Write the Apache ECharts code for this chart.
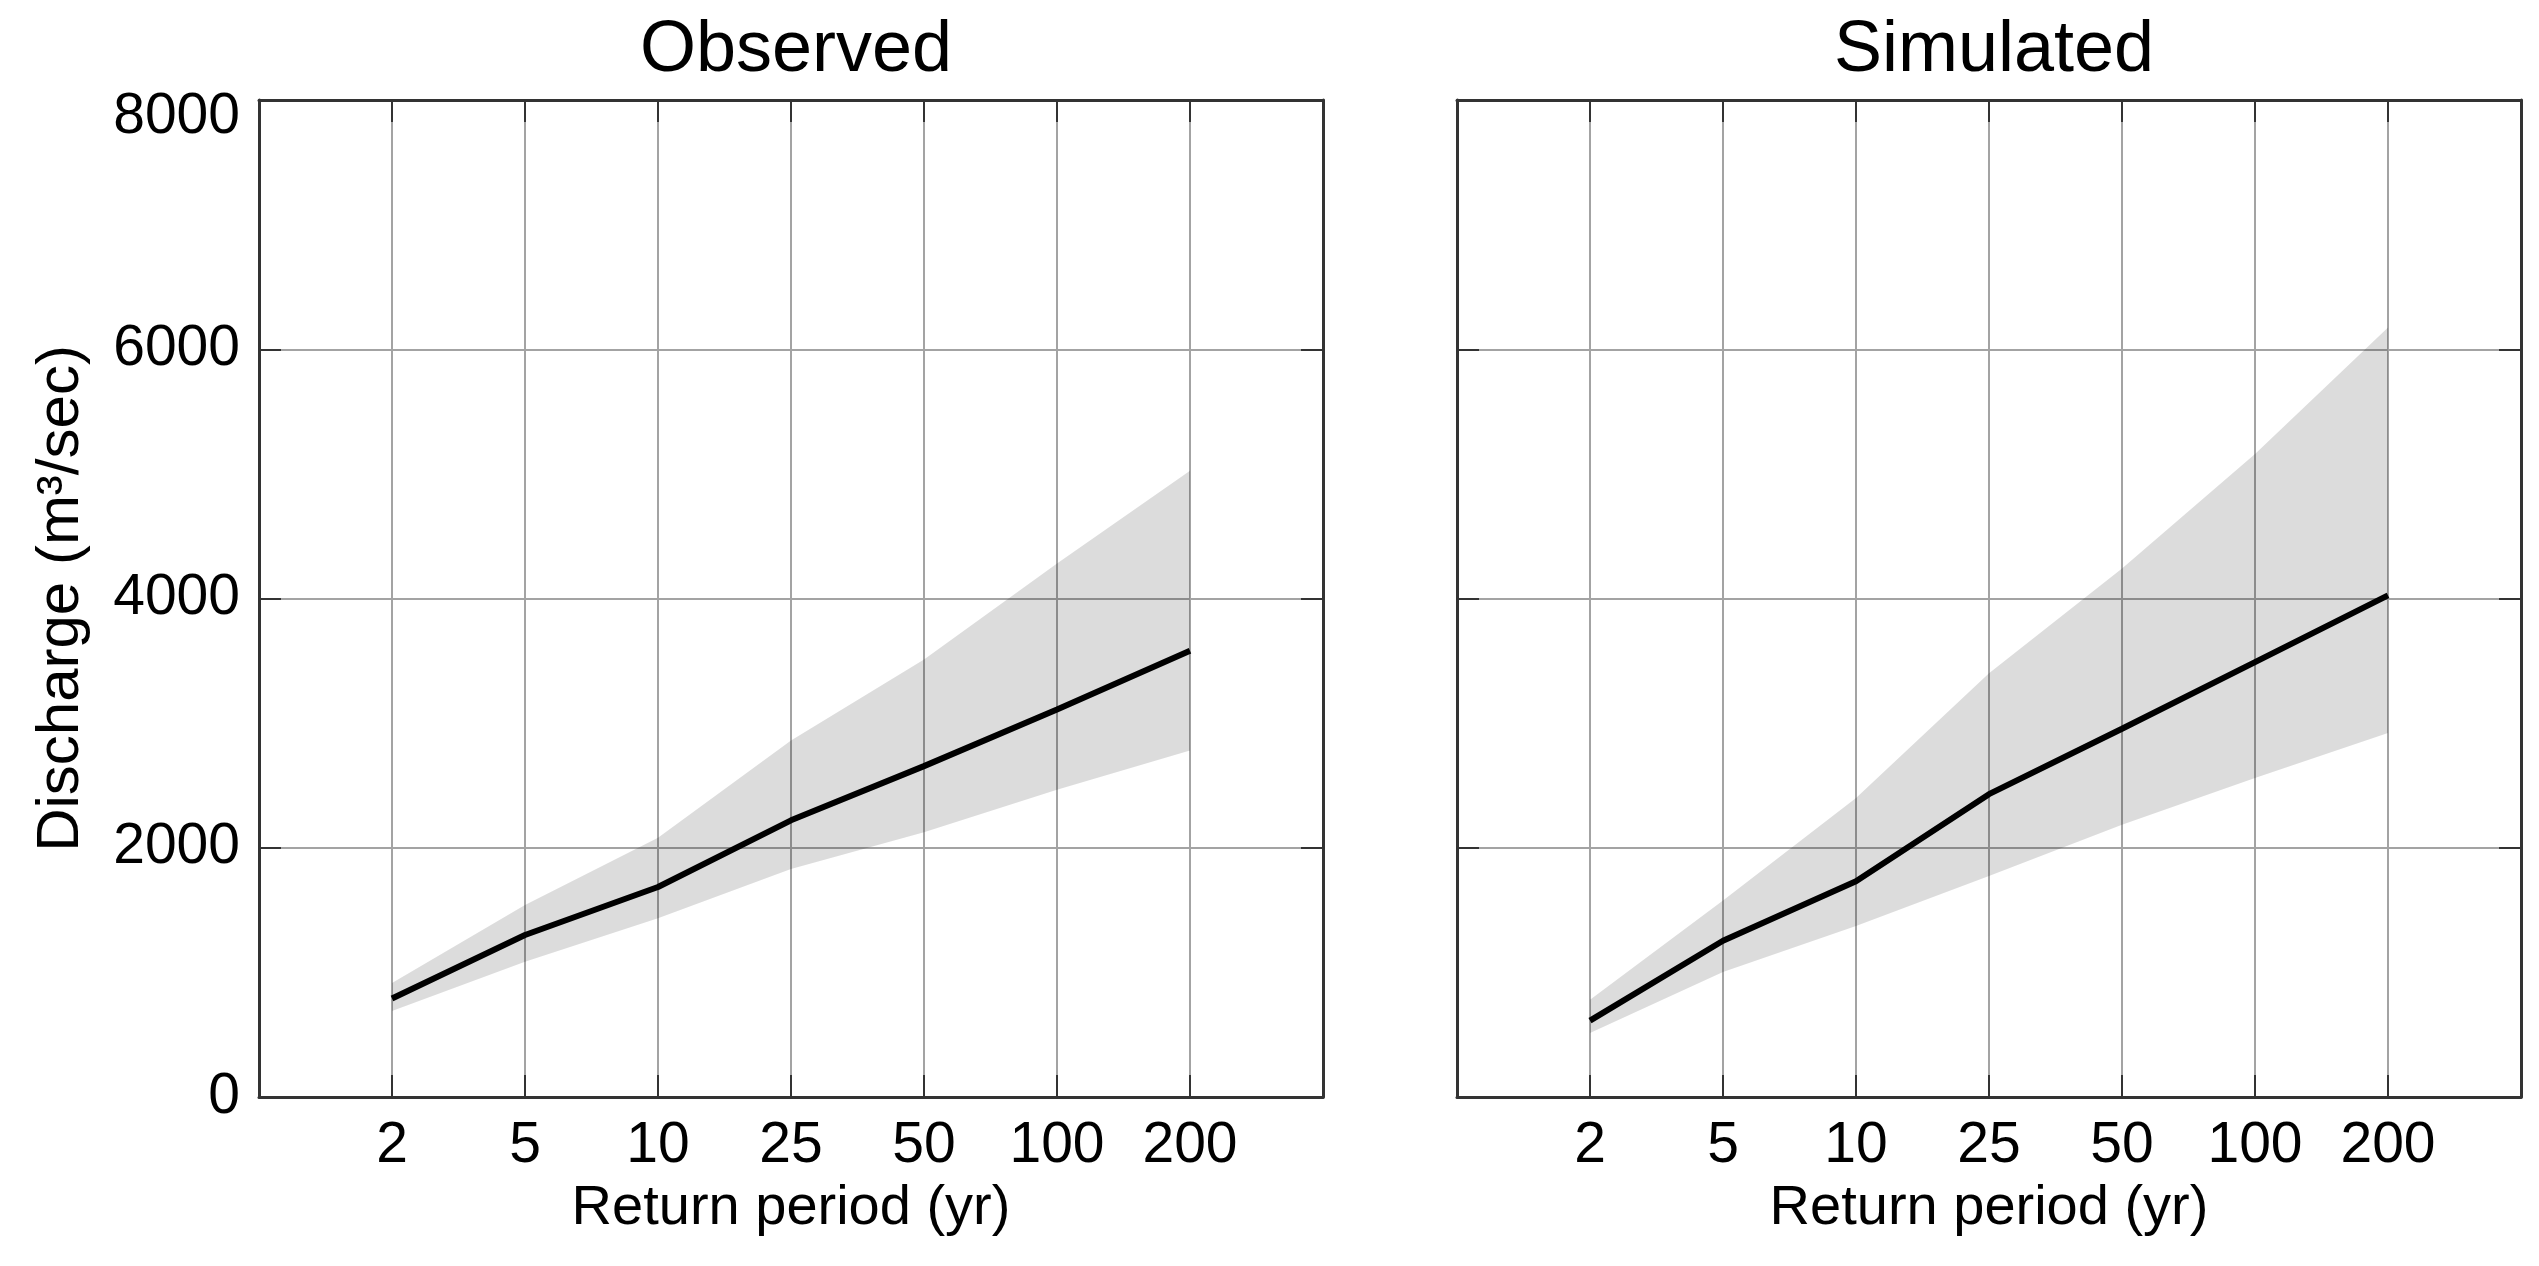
<!DOCTYPE html>
<html>
<head>
<meta charset="utf-8">
<title>Return period discharge</title>
<script src="https://cdn.jsdelivr.net/npm/echarts@6/dist/echarts.min.js"></script>
<style>
	html, body { margin: 0; padding: 0; background: #fff; }
	#chart { width: 2539px; height: 1266px; }
</style>
</head>
<body>
<div id="chart"></div>
<script>
// return periods (yr), x categories
var periods = ['2', '5', '10', '25', '50', '100', '200'];

// Observed: median and uncertainty band (m3/sec)
var obsMean  = [790, 1300, 1685, 2220, 2655, 3110, 3580];
var obsUpper = [915, 1540, 2080, 2860, 3510, 4280, 5025];
var obsLower = [690, 1085, 1435, 1830, 2125, 2465, 2780];

// Simulated
var simMean  = [613, 1254, 1731, 2430, 2955, 3490, 4025];
var simUpper = [780, 1577, 2400, 3400, 4240, 5160, 6175];
var simLower = [513, 1004, 1373, 1774, 2185, 2560, 2920];

var yMax = 8000;
var yStep = 2000;

var FONT = 'Liberation Sans';
var FRAME = '#333';
var GRIDC = '#a3a3a3';
var TICK = { color: FRAME, width: 2 };
var LABEL_SIZE = 57;

// one empty slot on each side of the period categories
var xCats = [''].concat(periods, ['']);

function pad(arr) {
	return [null].concat(arr, [null]);
}

function diff(up, low) {
	var out = [];
	for (var i = 0; i < up.length; i++) {
		out.push(up[i] - low[i]);
	}
	return out;
}

function xAxes(gridIndex) {
	return [{
		gridIndex: gridIndex,
		type: 'category',
		position: 'bottom',
		data: xCats,
		boundaryGap: false,
		axisLine: { onZero: false, lineStyle: { color: FRAME, width: 3 } },
		axisTick: { inside: true, length: 22, interval: 0, lineStyle: TICK },
		axisLabel: { interval: 0, margin: 21, fontSize: LABEL_SIZE, color: '#000', fontFamily: FONT },
		splitLine: { show: true, interval: 0, lineStyle: { color: GRIDC, width: 2 } },
		name: 'Return period (yr)',
		nameLocation: 'middle',
		nameGap: 84,
		nameTextStyle: { fontSize: 56, color: '#000', fontFamily: FONT }
	}, {
		gridIndex: gridIndex,
		type: 'category',
		position: 'top',
		data: xCats,
		boundaryGap: false,
		axisLine: { onZero: false, lineStyle: { color: FRAME, width: 3 } },
		axisTick: { inside: true, length: 22, interval: 0, lineStyle: TICK },
		axisLabel: { show: false },
		splitLine: { show: false }
	}];
}

function yAxes(gridIndex, withLabels) {
	var left = {
		gridIndex: gridIndex,
		type: 'value',
		position: 'left',
		min: 0,
		max: yMax,
		interval: yStep,
		axisLine: { show: true, onZero: false, lineStyle: { color: FRAME, width: 3 } },
		axisTick: { show: true, inside: true, length: 22, lineStyle: TICK },
		axisLabel: {
			show: withLabels, margin: 19, fontSize: LABEL_SIZE, color: '#000', fontFamily: FONT,
			formatter: function (v) {
				// top label sits a little below its grid line
				return v === yMax ? '{top|' + v + '}' : String(v);
			},
			rich: {
				top: { fontSize: LABEL_SIZE, color: '#000', fontFamily: FONT, padding: [34, 0, 0, 0] }
			}
		},
		splitLine: { show: true, lineStyle: { color: GRIDC, width: 2 } }
	};
	if (withLabels) {
		left.name = 'Discharge (m\u00b3/sec)';
		left.nameLocation = 'middle';
		left.nameGap = 168;
		left.nameTextStyle = { fontSize: 60, color: '#000', fontFamily: FONT };
	}
	var right = {
		gridIndex: gridIndex,
		type: 'value',
		position: 'right',
		min: 0,
		max: yMax,
		interval: yStep,
		axisLine: { show: true, onZero: false, lineStyle: { color: FRAME, width: 3 } },
		axisTick: { show: true, inside: true, length: 22, lineStyle: TICK },
		axisLabel: { show: false },
		splitLine: { show: false }
	};
	return [left, right];
}

function panelSeries(idx, mean, upper, lower) {
	var xi = idx * 2, yi = idx * 2;
	var stackName = 'band' + idx;
	return [{
		type: 'line',
		xAxisIndex: xi,
		yAxisIndex: yi,
		stack: stackName,
		data: pad(lower),
		symbol: 'none',
		silent: true,
		lineStyle: { opacity: 0 }
	}, {
		type: 'line',
		xAxisIndex: xi,
		yAxisIndex: yi,
		stack: stackName,
		data: pad(diff(upper, lower)),
		symbol: 'none',
		silent: true,
		lineStyle: { opacity: 0 },
		// translucent so the grid lines still show through the band
		areaStyle: { color: 'rgba(0,0,0,0.137)', opacity: 1 }
	}, {
		type: 'line',
		xAxisIndex: xi,
		yAxisIndex: yi,
		data: pad(mean),
		symbol: 'none',
		z: 5,
		lineStyle: { color: '#000', width: 6 }
	}];
}

var chart = echarts.init(document.getElementById('chart'), null, { renderer: 'canvas' });

var option = {
	backgroundColor: '#fff',
	animation: false,
	title: [{
		text: 'Observed',
		left: 791,
		top: 10,
		textAlign: 'center',
		textStyle: { fontSize: 72, fontWeight: 'normal', color: '#000', fontFamily: FONT }
	}, {
		text: 'Simulated',
		left: 1989,
		top: 10,
		textAlign: 'center',
		textStyle: { fontSize: 72, fontWeight: 'normal', color: '#000', fontFamily: FONT }
	}],
	grid: [
		{ left: 259, top: 100, width: 1064, height: 997 },
		{ left: 1457, top: 100, width: 1064, height: 997 }
	],
	xAxis: xAxes(0).concat(xAxes(1)),
	yAxis: yAxes(0, true).concat(yAxes(1, false)),
	series: panelSeries(0, obsMean, obsUpper, obsLower)
		.concat(panelSeries(1, simMean, simUpper, simLower))
};

chart.setOption(option);
</script>
</body>
</html>
